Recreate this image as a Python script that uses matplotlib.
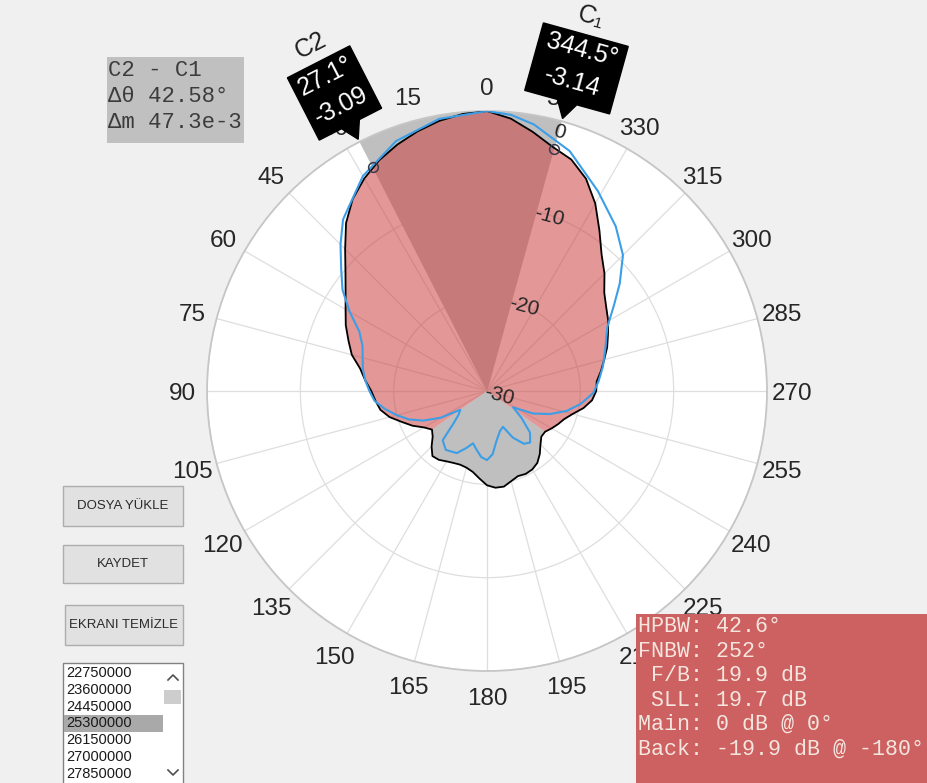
import numpy as np
import matplotlib
matplotlib.use("Agg")
import matplotlib.pyplot as plt
from matplotlib.patches import Polygon, Rectangle
from matplotlib.transforms import Affine2D, IdentityTransform, offset_copy
from matplotlib.lines import Line2D

# measured pattern, dB, every 5 degrees
meas_deg = np.arange(0, 360, 5)
meas_db = [0.0, -0.2, -0.6, -1.2, -1.9, -2.7, -3.7, -4.9, -6.5, -8.5,
           -10.2, -11.5, -12.5, -13.3, -14.2, -15.0, -16.2, -16.9, -17.6, -18.0,
           -18.4, -19.2, -20.3, -21.2, -22.2, -22.8, -22.4, -21.6, -20.9, -21.0,
           -21.3, -21.5, -21.6, -21.5, -21.2, -20.6, -19.9, -19.6, -19.6, -20.0,
           -20.3, -20.2, -20.3, -20.6, -21.2, -21.9, -22.4, -22.4, -22.0, -21.6,
           -21.2, -20.5, -19.5, -18.7, -18.3, -18.2, -17.6, -17.0, -16.3, -15.7,
           -15.0, -14.4, -13.6, -12.2, -10.9, -9.0, -6.8, -4.9, -3.6, -2.9,
           -1.8, -0.7]

# simulated pattern, dB
sim_deg = [0, 10, 20, 30, 40, 45, 50, 55, 60, 65, 70, 75, 80, 85, 90, 95, 100,
           105, 110, 115, 120, 125, 130, 134, 138, 145, 154, 160, 165, 170, 175,
           180, 185, 191, 198, 204, 209, 215, 220, 226, 232, 238, 244, 250, 256,
           262, 269, 275, 282, 290, 298, 304, 309, 315, 322, 331, 341, 350, 355]
sim_db = [0.0, -0.4, -1.5, -3.4, -6.0, -7.8, -9.6, -11.1, -13.0, -14.9, -15.8,
          -16.2, -16.5, -16.9, -17.4, -17.9, -18.9, -20.0, -21.1, -22.5, -24.3,
          -26.5, -26.0, -25.0, -22.9, -22.3, -22.6, -23.5, -24.2, -23.6, -22.9,
          -22.6, -23.2, -24.6, -25.5, -25.8, -24.3, -23.1, -22.8, -23.6, -25.3,
          -26.7, -24.5, -22.8, -21.2, -19.9, -18.6, -18.0, -17.3, -16.5, -15.4,
          -13.6, -11.7, -9.4, -7.6, -5.5, -2.8, -1.0, -0.3]

cursor_deg = [27.1, 344.5]
cursor_db = [-3.09, -3.14]
cursor_names = ["C2", "C\u2081"]
delta_theta = 42.58
delta_m = "47.3e-3"

hpbw = 42.6
fnbw = 252
fb_ratio = 19.9
sll = 19.7
main_lobe = (0, 0)
back_lobe = (-19.9, -180)

rticks = [-30, -20, -10, 0]
theta_ticks = np.arange(0, 360, 15)

buttons = ["DOSYA YÜKLE", "KAYDET", "EKRANI TEMİZLE"]
freqs = [22750000, 23600000, 24450000, 25300000, 26150000, 27000000, 27850000]
selected_freq = 25300000

W, H = 928, 783
sans = ["Liberation Sans", "DejaVu Sans"]
mono = ["Liberation Mono", "DejaVu Sans Mono"]


def fx(x, y):
    # top-left pixel -> figure fraction
    return x / W, 1 - y / H


fig = plt.figure(figsize=(W / 100, H / 100), dpi=100, facecolor="#f0f0f0")
ax = fig.add_axes([0.2231, 0.1430, 0.6034, 0.7152], projection="polar")
ax.set_facecolor("white")
ax.set_theta_zero_location("N")
ax.set_theta_direction(1)
ax.set_ylim(rticks[0], rticks[-1])
ax.set_xticks(np.deg2rad(theta_ticks))
ax.set_yticks(rticks)
ax.set_xticklabels([])
ax.set_yticklabels([])
ax.set_axisbelow(True)
ax.grid(True, color="#dedede", lw=0.9)
ax.spines["polar"].set_color("#c6c6c6")
ax.spines["polar"].set_linewidth(1.3)

m_deg = np.asarray(meas_deg, dtype=float)
m_db = np.asarray(meas_db)
rmin = rticks[0]

# half-power beamwidth wedge between the two cursors
c_lo = cursor_deg[1] - 360
c_hi = cursor_deg[0]
ax.bar(np.deg2rad((c_lo + c_hi) / 2), rticks[-1] - rmin, width=np.deg2rad(c_hi - c_lo),
       bottom=rmin, color="#bfbfbf", lw=0, zorder=1)

# main lobe region (inside FNBW) in red, the rest in gray
wrap = (m_deg + 180) % 360 - 180
front = np.abs(wrap) <= fnbw / 2
order = np.argsort(wrap[front])
fth = wrap[front][order]
fr = m_db[front][order]
back = ~front
bth = np.r_[fth[-1], m_deg[back], fth[0] + 360]
br = np.r_[fr[-1], m_db[back], fr[0]]
ax.fill(np.deg2rad(np.r_[bth[0], bth, bth[-1]]), np.r_[rmin, br, rmin],
        color="#bfbfbf", lw=0, zorder=1.5)
ax.fill(np.deg2rad(np.r_[fth[0], fth, fth[-1]]), np.r_[rmin, fr, rmin],
        color="#cc4242", alpha=0.55, lw=0, zorder=2)

ax.plot(np.deg2rad(np.r_[m_deg, 360]), np.r_[m_db, m_db[0]], color="black", lw=1.3, zorder=4)
ax.plot(np.deg2rad(np.r_[sim_deg, 360]), np.r_[sim_db, sim_db[0]], color="#3c9ee6", lw=1.5, zorder=5)
ax.plot(np.deg2rad(cursor_deg), cursor_db, "o", mfc="none", mec="#3a3a4a", ms=7, mew=1.1, zorder=6)

# angle labels
r_lab = rticks[-1] + 25 / 280 * (rticks[-1] - rmin)
for a in theta_ticks:
    ax.text(np.deg2rad(a), r_lab, str(a), ha="center", va="center_baseline", fontsize=17.5,
            family=sans, color="#262626", clip_on=False, zorder=7)

# radial labels along the C1 direction
rl_ang = np.deg2rad(cursor_deg[1])
for v in rticks:
    if v < rticks[-1]:
        tr = offset_copy(ax.transData, fig=fig, x=12, y=-5, units="dots")
        rr = v
    else:
        tr = ax.transData
        rr = v - 1.2
    ax.text(rl_ang, rr, str(v), transform=tr, ha="center", va="center", fontsize=15,
            family=sans, color="#262626", rotation=-15, zorder=7)

# data tips
box_w = [70, 88]
for ang, val, name, bw in zip(cursor_deg, cursor_db, cursor_names, box_w):
    tip = ax.transData.transform((np.deg2rad(ang), rticks[-1] + 0.3))
    rot = ang if ang < 180 else ang - 360
    tf = Affine2D().rotate_deg(rot).translate(tip[0], tip[1])
    hw = bw / 2
    shape = [(0, 0), (10, 17), (hw, 17), (hw, 87), (-hw, 87), (-hw, 17), (-10, 17)]
    fig.patches.append(Polygon(tf.transform(shape), closed=True, facecolor="black",
                               edgecolor="black", transform=IdentityTransform(), zorder=8))
    for txt, up, col in [(f"{ang}°", 71, "white"), (f"{val:.2f}", 38, "white"),
                         (name, 105, "#1e1e1e")]:
        px_, py_ = tf.transform((0, up))
        fig.text(px_ / W, py_ / H, txt, ha="center", va="center", rotation=rot,
                 rotation_mode="anchor", fontsize=18, family=sans, color=col, zorder=9)

# cursor difference box
x0, y0 = fx(107, 143)
fig.patches.append(Rectangle((x0, y0), 137 / W, 86 / H, transform=fig.transFigure,
                             facecolor="#c0c0c0", edgecolor="none", zorder=8))
for txt, y in zip(["C2 - C1", f"Δθ {delta_theta}°", f"Δm {delta_m}"], [70, 96, 122]):
    fig.text(108 / W, 1 - y / H, txt, ha="left", va="center", fontsize=16,
             family=mono, color="#3c3c3c", zorder=9)

# pattern summary box
x0, y0 = fx(636, 783)
fig.patches.append(Rectangle((x0, y0), (W - 636) / W, (783 - 614) / H, transform=fig.transFigure,
                             facecolor="#cd6060", edgecolor="none", zorder=8))
summary = [f"HPBW: {hpbw}°", f"FNBW: {fnbw}°", f" F/B: {fb_ratio} dB", f" SLL: {sll} dB",
           f"Main: {main_lobe[0]} dB @ {main_lobe[1]}°",
           f"Back: {back_lobe[0]} dB @ {back_lobe[1]}°"]
for i, txt in enumerate(summary):
    fig.text(638 / W, 1 - (627 + 24.4 * i) / H, txt, ha="left", va="center", fontsize=15.6,
             family=mono, color="#f4e6df", zorder=9)

# buttons
btn_boxes = [(63, 486, 183, 526), (63, 545, 183, 583), (65, 605, 183, 645)]
for label, (l, t, r, b) in zip(buttons, btn_boxes):
    x0, y0 = fx(l, b)
    fig.patches.append(Rectangle((x0, y0), (r - l) / W, (b - t) / H, transform=fig.transFigure,
                                 facecolor="#e1e1e1", edgecolor="#adadad", lw=1, zorder=8))
    fig.text((l + r) / 2 / W, 1 - (t + b) / 2 / H, label, ha="center", va="center",
             fontsize=9.5, family=sans, color="#2a2a2a", zorder=9)

# frequency list
x0, y0 = fx(63, 790)
fig.patches.append(Rectangle((x0, y0), 120 / W, 127 / H, transform=fig.transFigure,
                             facecolor="white", edgecolor="#828282", lw=1, zorder=8))
for i, f in enumerate(freqs):
    yc = 673 + 16.8 * i
    if f == selected_freq:
        x0, y0 = fx(64, yc + 8.5)
        fig.patches.append(Rectangle((x0, y0), 99 / W, 17 / H, transform=fig.transFigure,
                                     facecolor="#a9a9a9", edgecolor="none", zorder=8.5))
    fig.text(66 / W, 1 - yc / H, str(f), ha="left", va="center", fontsize=10.5,
             family=sans, color="#1a1a1a", zorder=9)
x0, y0 = fx(164, 704)
fig.patches.append(Rectangle((x0, y0), 17 / W, 14 / H, transform=fig.transFigure,
                             facecolor="#cdcdcd", edgecolor="none", zorder=8.5))
for yc, s in [(677, 1), (773, -1)]:
    xs = np.array([168, 173, 178]) / W
    ys = 1 - np.array([yc + 3 * s, yc - 2 * s, yc + 3 * s]) / H
    fig.lines.append(Line2D(xs, ys, transform=fig.transFigure, color="#505050", lw=1.2, zorder=9))

fig.savefig("out.png", dpi=100, facecolor=fig.get_facecolor())
